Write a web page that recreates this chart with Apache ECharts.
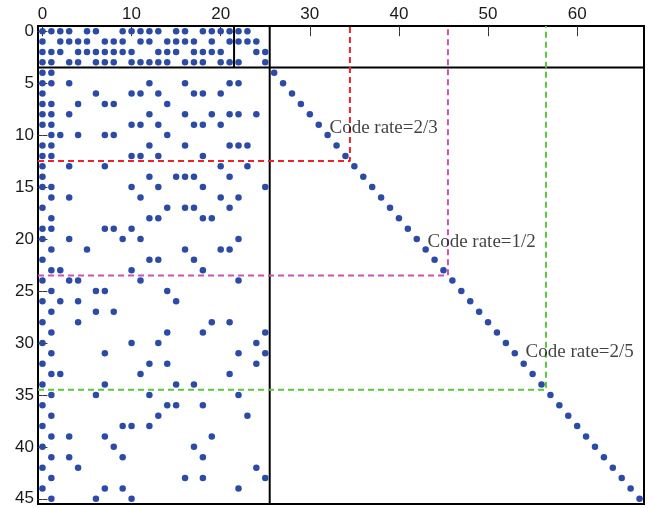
<!DOCTYPE html>
<html>
<head>
<meta charset="utf-8">
<script src="https://cdn.jsdelivr.net/npm/echarts@6/dist/echarts.min.js"></script>
<style>
html,body{margin:0;padding:0;background:#fff;}
#c{width:654px;height:508px;}
</style>
</head>
<body>
<div id="c"></div>
<script>
// ---- data ----
const xTicks = [0, 10, 20, 30, 40, 50, 60];
const yTicks = [0, 5, 10, 15, 20, 25, 30, 35, 40, 45];
const xRange = [-0.5, 67.5];
const yRange = [-0.5, 45.5];

// non-zero columns of the left (information) part, one list per row 0..45
const leftRows = [
  [0,1,2,3,5,6,9,10,11,12,13,15,16,18,19,20,21,22,23],
  [0,2,3,4,5,7,8,9,11,12,14,15,16,17,19,21,22,23,24],
  [0,1,2,4,5,6,7,8,9,10,13,14,15,17,18,19,20,24,25],
  [0,1,3,4,6,7,8,10,11,12,13,14,16,17,18,20,21,22,25],
  [0,1],
  [0,1,3,12,16,21,22],
  [0,6,10,11,13,17,18,20],
  [0,1,4,7,8,14],
  [0,1,3,12,16,19,21,22,24],
  [0,1,10,11,13,17,18,20],
  [1,2,4,7,8,14],
  [0,1,12,16,21,22,23],
  [0,1,10,11,13,18],
  [0,3,7,20,23],
  [0,12,15,16,17,21],
  [0,1,10,13,18,25],
  [1,3,11,20,22],
  [0,14,16,17,21],
  [1,12,13,18,19],
  [0,1,7,8,10],
  [0,3,9,11,22],
  [1,5,16,20,21],
  [0,12,13,17],
  [1,2,10,18],
  [0,3,4,11,22],
  [1,6,7,14],
  [0,2,4,15],
  [1,6,8],
  [0,4,19,21],
  [1,14,18,25],
  [0,10,13,24],
  [1,7,22,25],
  [0,12,14,24],
  [1,2,11,21],
  [0,7,15,17],
  [1,6,12,22],
  [0,14,15,18],
  [1,13,23],
  [0,9,10,12],
  [1,3,7,19],
  [0,8,17],
  [1,3,9,18],
  [0,4,24],
  [1,16,18,25],
  [0,7,9,22],
  [1,6,10]
];

// diagonal (parity) part
const diagRows = [4,5,6,7,8,9,10,11,12,13,14,15,16,17,18,19,20,21,22,23,24,25,26,27,28,29,30,31,32,33,34,35,36,37,38,39,40,41,42,43,44,45];
const diagCols = [26,27,28,29,30,31,32,33,34,35,36,37,38,39,40,41,42,43,44,45,46,47,48,49,50,51,52,53,54,55,56,57,58,59,60,61,62,63,64,65,66,67];

// partition lines (solid)
const hSplitRow = 3.5;
const vSplitColMain = 25.5;
const vSplitColTop = 21.5;

// code-rate boundaries: [column edge, row edge]
const rateNames = ['Code rate=2/3', 'Code rate=1/2', 'Code rate=2/5'];
const rateColEdge = [34.5, 45.5, 56.5];
const rateRowEdge = [12.5, 23.5, 34.5];
const rateColors = ['#e8232a', '#c955b3', '#5cc63c'];
const rateLabelPos = [[32.2, 9.3], [43.2, 20.3], [54.2, 30.9]];

// ---- build ----
const dots = [];
leftRows.forEach((cols, r) => cols.forEach(c => dots.push([c, r])));
diagRows.forEach((r, i) => dots.push([diagCols[i], r]));

const series = [];
series.push({
  type: 'line', data: [[xRange[0], hSplitRow], [xRange[1], hSplitRow]],
  symbol: 'none', lineStyle: {color: '#000', width: 2}, silent: true, z: 3
});
series.push({
  type: 'line', data: [[vSplitColMain, yRange[0]], [vSplitColMain, yRange[1]]],
  symbol: 'none', lineStyle: {color: '#000', width: 2}, silent: true, z: 3
});
series.push({
  type: 'line', data: [[vSplitColTop, yRange[0]], [vSplitColTop, hSplitRow]],
  symbol: 'none', lineStyle: {color: '#000', width: 2}, silent: true, z: 3
});
rateColEdge.forEach((cx, i) => {
  series.push({
    type: 'line',
    data: [[xRange[0], rateRowEdge[i]], [cx, rateRowEdge[i]], [cx, yRange[0]]],
    symbol: 'none',
    lineStyle: {color: rateColors[i], width: 2, type: [6, 4]},
    silent: true, z: 4
  });
});
series.push({
  type: 'scatter', data: dots, symbolSize: 6.5,
  itemStyle: {color: '#2b4ba6', opacity: 1}, z: 5
});
series.push({
  type: 'scatter',
  data: rateLabelPos.map((p, i) => [p[0], p[1], rateNames[i]]),
  symbolSize: 0.1,
  itemStyle: {color: 'rgba(0,0,0,0)'},
  label: {
    show: true, position: 'right', distance: 0,
    formatter: p => p.value[2],
    fontFamily: 'Liberation Serif', fontSize: 19, color: '#111'
  },
  z: 6
});

const tickCommon = {show: true, inside: true, length: 5, lineStyle: {color: '#333', width: 1}};

const chart = echarts.init(document.getElementById('c'), null, {renderer: 'canvas'});
chart.setOption({
  animation: false,
  backgroundColor: '#fff',
  grid: {left: 38, right: 10, top: 26, bottom: 4, show: true, borderColor: '#000', borderWidth: 2, backgroundColor: 'transparent'},
  xAxis: [
    {type: 'value', position: 'top', min: xRange[0], max: xRange[1],
     axisLine: {show: false}, splitLine: {show: false},
     axisTick: Object.assign({customValues: xTicks}, tickCommon),
     axisLabel: {customValues: xTicks, fontFamily: 'Liberation Sans', fontSize: 17, color: '#1a1a1a', margin: 3}},
    {type: 'value', position: 'bottom', min: xRange[0], max: xRange[1],
     axisLine: {show: false}, splitLine: {show: false},
     axisTick: Object.assign({customValues: xTicks}, tickCommon),
     axisLabel: {show: false}}
  ],
  yAxis: [
    {type: 'value', position: 'left', inverse: true, min: yRange[0], max: yRange[1],
     axisLine: {show: false}, splitLine: {show: false},
     axisTick: Object.assign({customValues: yTicks}, tickCommon),
     axisLabel: {customValues: yTicks, fontFamily: 'Liberation Sans', fontSize: 17, color: '#1a1a1a', margin: 4}},
    {type: 'value', position: 'right', inverse: true, min: yRange[0], max: yRange[1],
     axisLine: {show: false}, splitLine: {show: false},
     axisTick: Object.assign({customValues: yTicks}, tickCommon),
     axisLabel: {show: false}}
  ],
  series: series
});
</script>
</body>
</html>
